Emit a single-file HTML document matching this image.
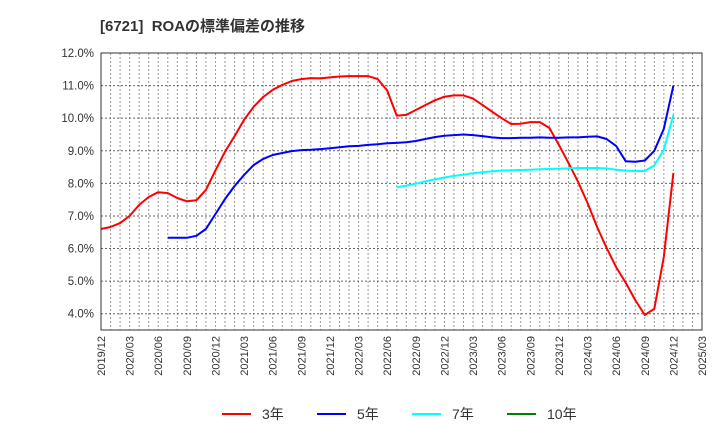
<!DOCTYPE html>
<html><head><meta charset="utf-8"><style>
body{margin:0;background:#fff;}
svg{display:block;font-family:"Liberation Sans","Noto Sans CJK JP",sans-serif;}
</style></head><body>
<svg id="chart" width="720" height="440" viewBox="0 0 720 440">
<text x="100" y="31" font-size="15" font-weight="bold" fill="#333">[6721]&#160; ROAの標準偏差の推移</text>
<g id="grid"></g><g id="axes"></g><g id="series"></g>
<rect x="101" y="53" width="601" height="277" fill="none" stroke="#333" stroke-width="1"/>
<g id="legend"></g>
</svg>
<script>
const startYear = 2019, startMonth = 12;
const yTicks = [4,5,6,7,8,9,10,11,12];
const xTickLabels = ["2019/12","2020/03","2020/06","2020/09","2020/12","2021/03","2021/06","2021/09","2021/12","2022/03","2022/06","2022/09","2022/12","2023/03","2023/06","2023/09","2023/12","2024/03","2024/06","2024/09","2024/12","2025/03"];
const seriesNames = ["3年","5年","7年","10年"];
const seriesColors = ["#ff0000","#0000ff","#00ffff","#008000"];
const seriesStart = [0,7,31,61];
const s3 = [6.60,6.66,6.78,7.0,7.34,7.58,7.73,7.70,7.55,7.45,7.48,7.80,8.4,8.97,9.45,9.95,10.35,10.65,10.87,11.02,11.14,11.2,11.23,11.22,11.25,11.28,11.29,11.29,11.29,11.2,10.85,10.08,10.1,10.25,10.4,10.55,10.66,10.7,10.7,10.6,10.4,10.2,10.0,9.82,9.83,9.88,9.88,9.7,9.18,8.63,8.05,7.4,6.66,6.02,5.43,4.95,4.42,3.96,4.15,5.74,8.32];
const s5 = [6.33,6.33,6.33,6.39,6.6,7.06,7.52,7.92,8.26,8.56,8.75,8.87,8.93,8.99,9.02,9.03,9.05,9.08,9.11,9.14,9.15,9.18,9.2,9.23,9.24,9.26,9.3,9.36,9.42,9.46,9.48,9.5,9.48,9.45,9.41,9.39,9.39,9.4,9.4,9.41,9.4,9.4,9.41,9.41,9.43,9.44,9.36,9.15,8.68,8.66,8.7,9.0,9.67,11.0];
const s7 = [7.88,7.93,7.99,8.06,8.12,8.18,8.23,8.27,8.31,8.34,8.37,8.39,8.40,8.41,8.42,8.43,8.44,8.45,8.46,8.47,8.47,8.47,8.46,8.42,8.39,8.38,8.38,8.55,9.03,10.1];
const s10 = [];
const allSeries = [s3,s5,s7,s10];
const X0=101,X1=702,Y0=53,Y1=330,yMax=12,yMin=3.5,nMonths=63;
const xPos = m => X0 + (X1-X0)*m/nMonths;
const yPos = v => Y0 + (Y1-Y0)*(yMax-v)/(yMax-yMin);
const NS="http://www.w3.org/2000/svg";
function mk(tag,attrs,parent){const e=document.createElementNS(NS,tag);for(const k in attrs)e.setAttribute(k,attrs[k]);parent.appendChild(e);return e;}
const grid=document.getElementById('grid'),axes=document.getElementById('axes'),ser=document.getElementById('series'),leg=document.getElementById('legend');
for(let m=1;m<nMonths;m++){
  const l=mk('line',{x1:xPos(m),x2:xPos(m),y1:Y0,y2:Y1,stroke:'#999','stroke-dasharray':'2,2','stroke-width':1},grid);
  
  
}
yTicks.forEach(v=>{
  const l=mk('line',{x1:X0,x2:X1,y1:yPos(v),y2:yPos(v),stroke:'#666','stroke-dasharray':'2,2','stroke-width':1},grid);
  
  
  const t=mk('text',{x:X0-7,y:yPos(v)+4,'font-size':11.5,'text-anchor':'end',fill:'#333'},axes);
  t.textContent=v.toFixed(1)+'%';
  
  
});
xTickLabels.forEach((lab,i)=>{
  const x=xPos(i*3);
  const t=mk('text',{x:0,y:0,'font-size':11,'text-anchor':'end',fill:'#333',transform:`translate(${x+4},336) rotate(-90)`},axes);
  t.textContent=lab;
  
  
});
allSeries.forEach((s,si)=>{
  if(!s.length) return;
  const pts=s.map((v,i)=>xPos(seriesStart[si]+i).toFixed(1)+','+yPos(v).toFixed(1)).join(' ');
  const p=mk('polyline',{points:pts,fill:'none',stroke:seriesColors[si],'stroke-width':2,'stroke-linejoin':'round'},ser);
  
  
});
const legX=[222,317,412,507];
seriesNames.forEach((n,i)=>{
  const g=mk('g',{},leg);
  
  
  mk('line',{x1:legX[i],x2:legX[i]+29,y1:414,y2:414,stroke:seriesColors[i],'stroke-width':2},g);
  const t=mk('text',{x:legX[i]+40,y:419,'font-size':14,fill:'#333'},g);
  t.textContent=n;
});
</script>
</body></html>
